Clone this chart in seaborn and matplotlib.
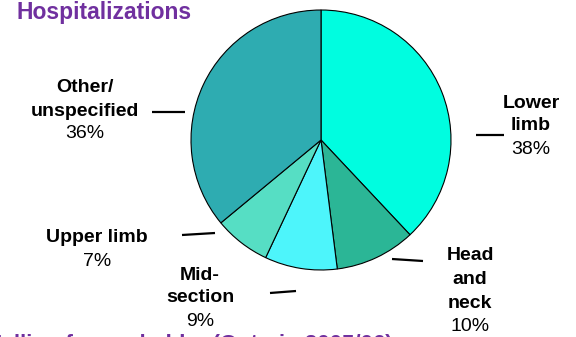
import matplotlib
matplotlib.use('Agg')
import matplotlib.pyplot as plt
import seaborn as sns

# ---- data ----
categories = ["Lower limb", "Head and neck", "Mid-section", "Upper limb", "Other/unspecified"]
values = [38, 10, 9, 7, 36]
label_lines = [["Lower", "limb"], ["Head", "and", "neck"], ["Mid-", "section"],
               ["Upper limb"], ["Other/", "unspecified"]]
pct_labels = ["38%", "10%", "9%", "7%", "36%"]
title_text = "Hospitalizations"
footer_text = "Falling from a ladder (Ontario 2005/06)"

# ---- style / layout ----
colors = ["#00FDE0", "#2BB696", "#4DF5FB", "#56DEC4", "#2EACB1"]
purple = "#70309F"
# label layout in pixel coords: (center x, first line y, line step)
label_pos = [(531, 103, 23), (470, 256, 23.5), (200, 275, 23), (97, 238, 23), (85, 88, 23)]
leader = [((476, 135), (504, 135)), ((392, 259), (423, 261)), ((270, 293), (296, 291)),
          ((182, 235), (215, 233)), ((152, 112), (185, 112))]

sns.set_theme(style="white")
plt.rcParams['font.family'] = ['Liberation Sans', 'DejaVu Sans']

W, H = 576, 337
fig = plt.figure(figsize=(W / 100, H / 100), dpi=100)
ax = fig.add_axes([0, 0, 1, 1])
cx, cy, r = 321, 140, 130

ax.pie(values, colors=colors, startangle=90, counterclock=False, radius=r,
       center=(cx, H - cy), wedgeprops=dict(edgecolor='black', linewidth=0.8))
ax.set_xlim(0, W)
ax.set_ylim(0, H)
ax.set_aspect('equal')
ax.axis('off')

for lines, pct, (lx, ly, step), seg in zip(label_lines, pct_labels, label_pos, leader):
    for i, t in enumerate(lines):
        ax.text(lx, H - (ly + i * step), t, ha='center', va='center', fontsize=14,
                fontweight='bold', color='black')
    ax.text(lx, H - (ly + len(lines) * step), pct, ha='center', va='center',
            fontsize=14, color='black')
    (x1, y1), (x2, y2) = seg
    ax.plot([x1, x2], [H - y1, H - y2], color='black', lw=1.6, solid_capstyle='butt')

fig.text(17 / W, (H - 19) / H, title_text, ha='left', va='baseline', fontsize=16.5,
         fontweight='bold', color=purple)
fig.text(-12 / W, (H - 350) / H, footer_text, ha='left', va='baseline', fontsize=16,
         fontweight='bold', color=purple)

fig.savefig('out.png', dpi=100)
